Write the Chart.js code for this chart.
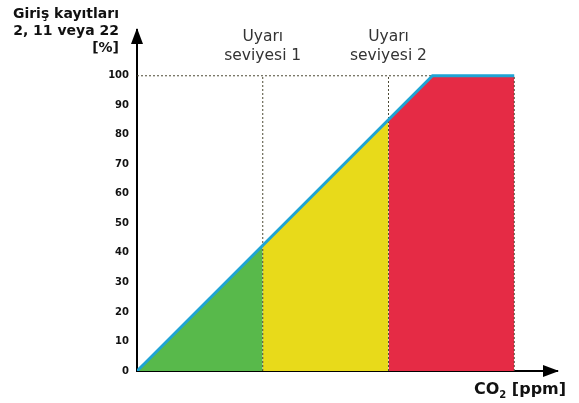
<!DOCTYPE html>
<html>
<head>
<meta charset="utf-8">
<script src="https://cdn.jsdelivr.net/npm/chart.js@4/dist/chart.umd.min.js"></script>
<style>
  body { margin: 0; background: #fff; }
  #wrap { width: 579px; height: 403px; }
</style>
</head>
<body>
<div id="wrap"><canvas id="co2Chart" width="579" height="403"></canvas></div>
<script>
// x in "level" units: 1 = Uyarı seviyesi 1, 2 = Uyarı seviyesi 2, 3 = end of scale
var lineX = [0, 2.35, 3];
var lineY = [0, 100, 100];
var greenX = [0, 1];
var greenY = [0, 42.5];
var yellowX = [1, 2];
var yellowY = [42.5, 85];
var redX = [2, 2.35, 3];
var redY = [85, 100, 100];
var levelX = [1, 2, 3];
var levelLabels = [['Uyarı', 'seviyesi 1'], ['Uyarı', 'seviyesi 2']];
var yTicks = [0, 10, 20, 30, 40, 50, 60, 70, 80, 90, 100];
var yTitle = ['Giriş kayıtları', '2, 11 veya 22', '[%]'];

function pts(xs, ys) {
    return xs.map(function (x, i) { return { x: x, y: ys[i] }; });
}

var dotted = {
    borderColor: '#4d4b35',
    borderWidth: 1,
    borderDash: [2, 2],
    pointRadius: 0,
    fill: false,
    order: 1
};

var datasets = [
    { data: pts(lineX, lineY), borderColor: '#1fa4d4', borderWidth: 3, pointRadius: 0, fill: false, order: 0 },
    Object.assign({ data: pts([0, lineX[1]], [100, 100]) }, dotted)
];
levelX.forEach(function (x) {
    datasets.push(Object.assign({ data: pts([x, x], [0, 100]) }, dotted));
});
datasets.push(
    { data: pts(greenX, greenY), borderWidth: 0, pointRadius: 0, fill: 'origin', backgroundColor: '#58b94b', order: 2 },
    { data: pts(yellowX, yellowY), borderWidth: 0, pointRadius: 0, fill: 'origin', backgroundColor: '#e8da1a', order: 2 },
    { data: pts(redX, redY), borderWidth: 0, pointRadius: 0, fill: 'origin', backgroundColor: '#e52b45', order: 2 }
);

// arrows and extra labels
var decorations = {
    id: 'decorations',
    afterDraw: function (chart) {
        var c = chart.ctx, a = chart.chartArea;
        var xs = chart.scales.x;
        c.save();
        c.fillStyle = '#000';
        // y arrow
        c.beginPath();
        c.moveTo(a.left, a.top - 2);
        c.lineTo(a.left - 6, a.top + 14);
        c.lineTo(a.left + 6, a.top + 14);
        c.closePath();
        c.fill();
        // x arrow
        c.beginPath();
        c.moveTo(a.right + 2, a.bottom);
        c.lineTo(a.right - 14, a.bottom - 6);
        c.lineTo(a.right - 14, a.bottom + 6);
        c.closePath();
        c.fill();

        // y title
        c.font = 'bold 14px "DejaVu Sans"';
        c.textAlign = 'right';
        c.textBaseline = 'middle';
        c.fillStyle = '#111';
        c.fillText(yTitle[0], 119, 14);
        c.fillText(yTitle[1], 119, 31);
        c.fillText(yTitle[2], 119, 48);

        // warning level labels
        c.font = '15.5px "DejaVu Sans"';
        c.textAlign = 'center';
        c.fillStyle = '#333';
        levelLabels.forEach(function (lines, i) {
            var px = xs.getPixelForValue(levelX[i]);
            c.fillText(lines[0], px, 37);
            c.fillText(lines[1], px, 56);
        });

        // x title CO2 [ppm]
        c.fillStyle = '#111';
        c.textAlign = 'left';
        c.font = 'bold 16px "DejaVu Sans"';
        var x0 = 474, y0 = 390;
        c.fillText('CO', x0, y0);
        var w = c.measureText('CO').width;
        c.font = 'bold 10px "DejaVu Sans"';
        c.fillText('2', x0 + w, y0 + 5);
        var w2 = c.measureText('2').width;
        c.font = 'bold 16px "DejaVu Sans"';
        c.fillText(' [ppm]', x0 + w + w2, y0);
        c.restore();
    }
};

Chart.defaults.font.family = '"DejaVu Sans"';

var ctx = document.getElementById('co2Chart').getContext('2d');
var myChart = new Chart(ctx, {
    type: 'line',
    data: { datasets: datasets },
    options: {
        responsive: false,
        animation: false,
        layout: { padding: { top: 30, right: 22, left: 0, bottom: 0 } },
        plugins: { legend: { display: false }, tooltip: { enabled: false } },
        scales: {
            x: {
                type: 'linear',
                min: 0,
                max: 3.34,
                grid: { display: false },
                ticks: { display: false },
                border: { display: true, color: '#000', width: 2 },
                afterFit: function (s) { s.height = 32; }
            },
            y: {
                min: 0,
                max: 115.5,
                grid: { display: false, drawTicks: false },
                border: { display: true, color: '#000', width: 2 },
                afterBuildTicks: function (s) {
                    s.ticks = yTicks.map(function (v) { return { value: v }; });
                },
                ticks: {
                    color: '#111',
                    padding: 8,
                    font: { size: 10, weight: 'bold' }
                },
                afterFit: function (s) { s.width = 137; }
            }
        }
    },
    plugins: [decorations]
});
</script>
</body>
</html>
